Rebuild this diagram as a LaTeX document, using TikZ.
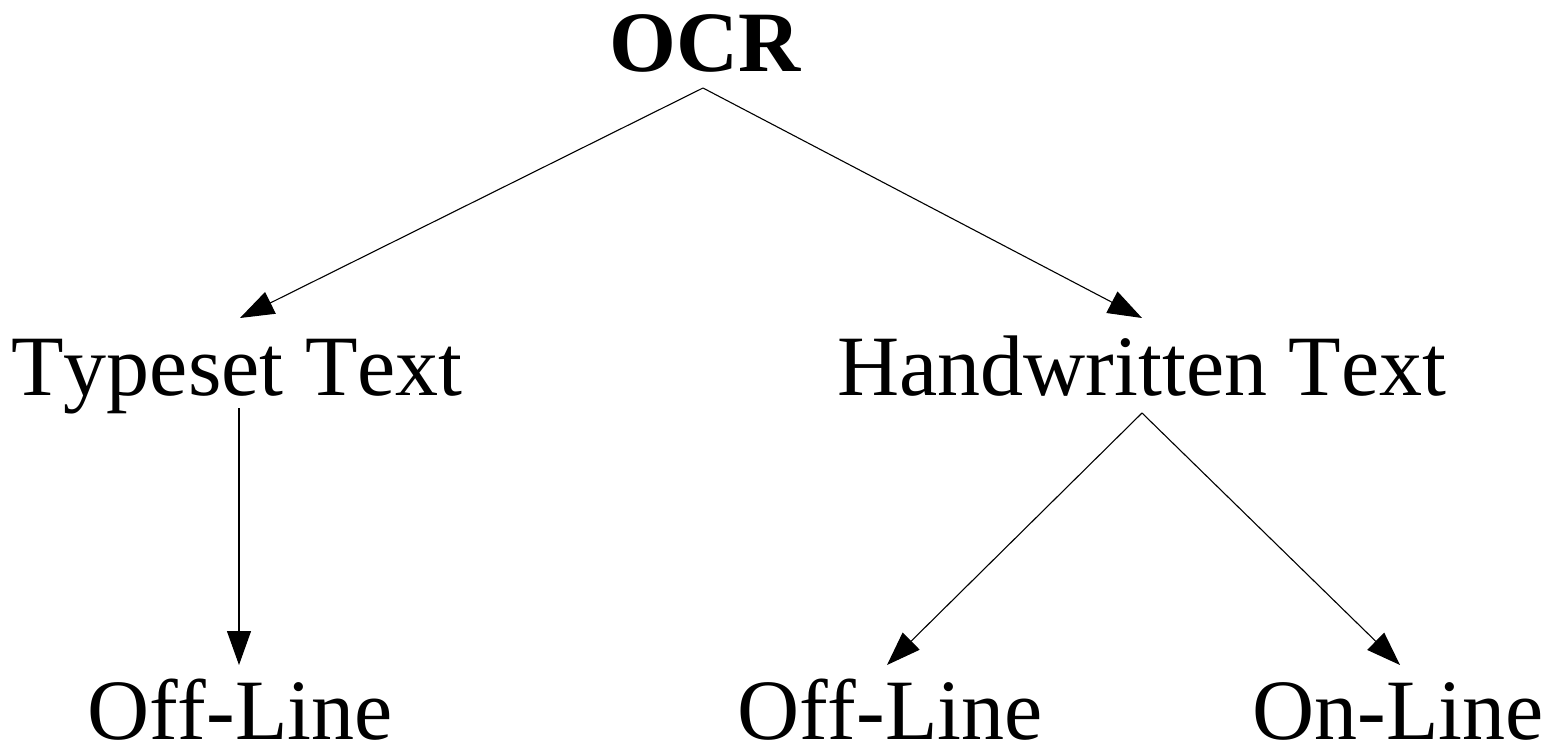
\documentclass[tikz,border=0pt]{standalone}
\usepackage{fontspec}
\setmainfont{Liberation Serif}[Kerning=Off]
\usetikzlibrary{arrows.meta}

\begin{document}
\begin{tikzpicture}[x=1pt, y=-1pt,
  label/.style={inner sep=0pt, anchor=base, font=\fontsize{86}{86}\selectfont},
  toplabel/.style={label, font=\fontsize{86}{86}\selectfont\bfseries},
  arr/.style={line width=1.1pt, -{Triangle[length=34pt, width=24pt]}}]
  \useasboundingbox (0,0) rectangle (1562,746);

  % category labels
  \node[toplabel] (ocr) at (705,72) {OCR};
  \node[label] (ts) at (237,395) {Typeset Text};
  \node[label] (hw) at (1142,395) {Handwritten Text};
  \node[label] (tsoff) at (240,739) {Off-Line};
  \node[label] (hwoff) at (890,739) {Off-Line};
  \node[label] (hwon) at (1398,739) {On-Line};

  % branches
  \draw[arr] ([xshift=-2pt, yshift=-16pt]ocr.base) -- ([xshift=3pt, yshift=77pt]ts.base);
  \draw[arr] ([xshift=-2pt, yshift=-16pt]ocr.base) -- ([yshift=77pt]hw.base);
  \draw[arr] ([xshift=2pt, yshift=-13pt]ts.base) -- ([xshift=-1pt, yshift=74pt]tsoff.base);
  \draw[arr] ([yshift=-18pt]hw.base) -- ([xshift=-3pt, yshift=74pt]hwoff.base);
  \draw[arr] ([yshift=-18pt]hw.base) -- ([xshift=2pt, yshift=74pt]hwon.base);
\end{tikzpicture}
\end{document}
